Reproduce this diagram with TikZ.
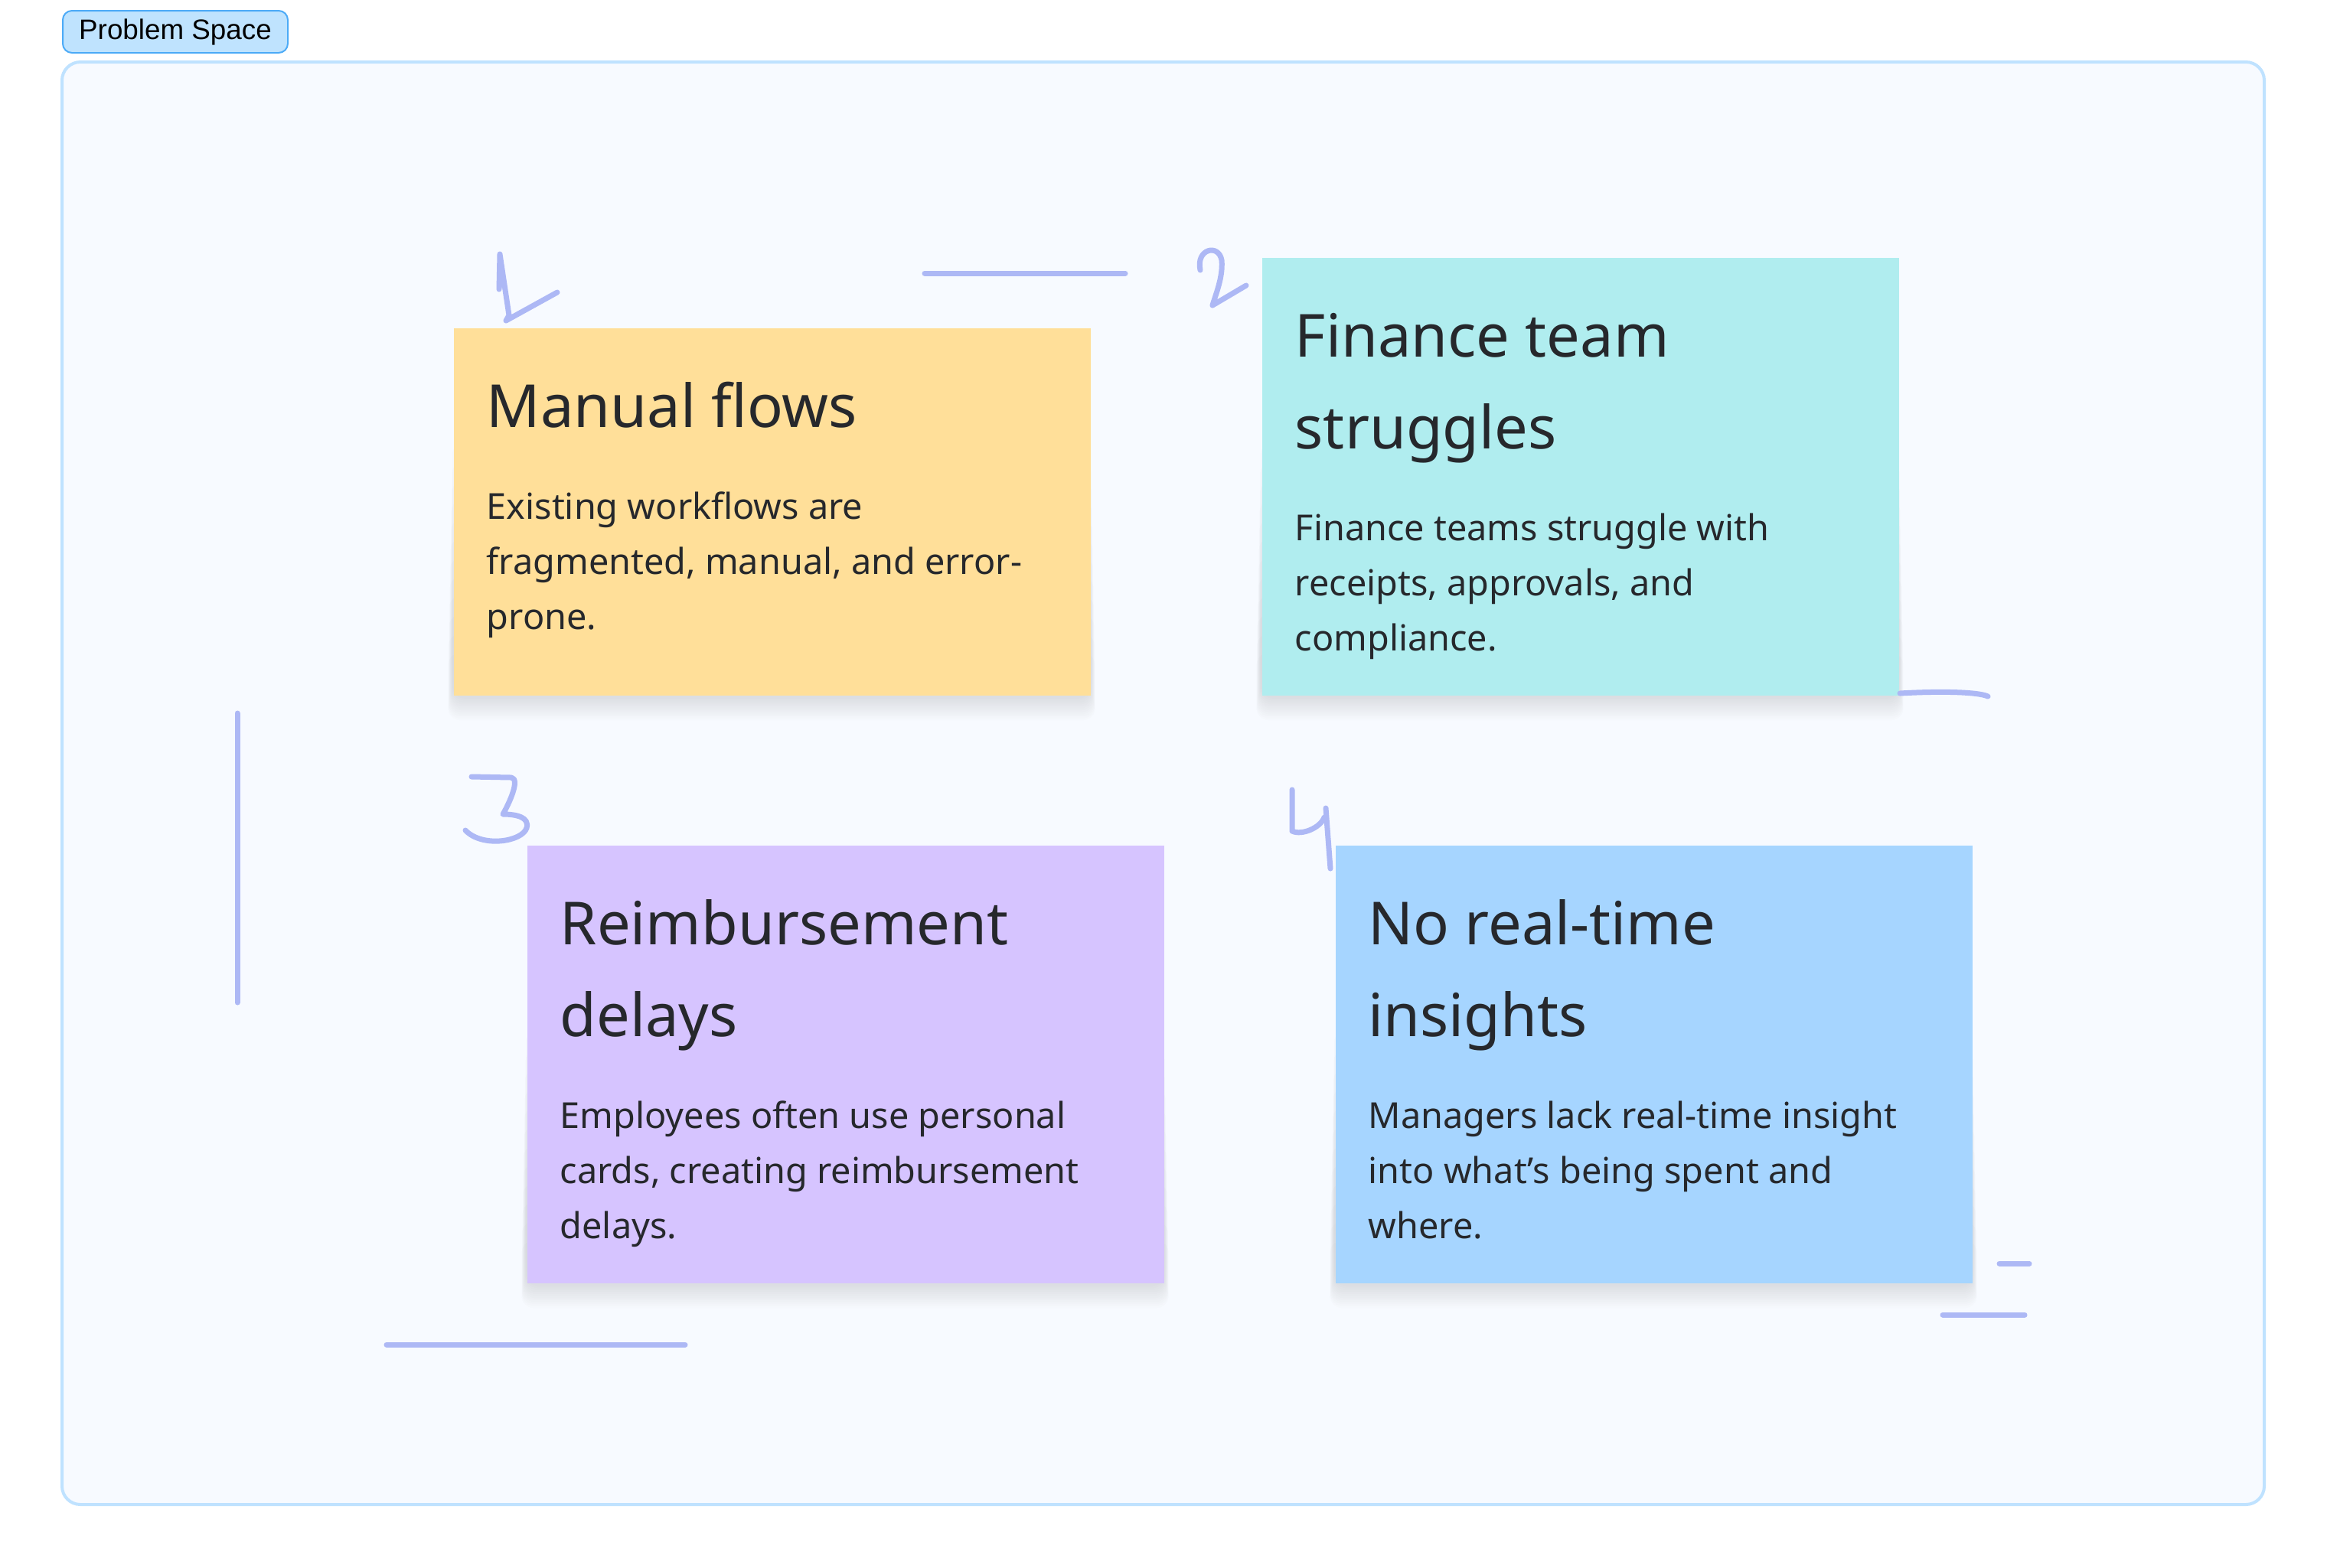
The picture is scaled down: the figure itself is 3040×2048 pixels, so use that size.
\documentclass[tikz,border=0pt]{standalone}
\usepackage{fontspec}
\setmainfont{Noto Sans}
\newfontfamily\tagfont{Liberation Sans}

\definecolor{boardfill}{HTML}{F7FAFF}
\definecolor{boardline}{HTML}{BFE2FF}
\definecolor{tagfill}{HTML}{BFE3FE}
\definecolor{tagline}{HTML}{4DABF7}
\definecolor{penblue}{HTML}{ADB8F5}
\definecolor{ink}{HTML}{26282C}
\definecolor{shade}{HTML}{4A5378}
\definecolor{cardyellow}{HTML}{FFDF99}
\definecolor{cardcyan}{HTML}{B0EDEF}
\definecolor{cardviolet}{HTML}{D6C4FF}
\definecolor{cardblue}{HTML}{A6D5FF}

\begin{document}
\begin{tikzpicture}[x=0.25pt, y=-0.25pt,
    card/.style={anchor=north west, minimum width=208pt, inner sep=0pt},
    headtxt/.style={anchor=base west, inner sep=0pt, align=left, text=ink,
      font=\fontsize{19.4}{30}\selectfont},
    bodytxt/.style={anchor=base west, inner sep=0pt, align=left, text=ink,
      font=\fontsize{11.7}{18}\selectfont},
    pen/.style={draw=penblue, line width=1.75pt, line cap=round, line join=round}]
        \fill[white] (0,0) rectangle (3040,2048);
        \useasboundingbox (0,0) rectangle (3040,2048);

        %% board and its tag
        \draw[boardline, fill=boardfill, line width=1pt, rounded corners=6pt]
          (81,81) rectangle (2958,1966);
        \node[draw=tagline, fill=tagfill, line width=0.5pt, rounded corners=3pt,
          minimum width=73.5pt, minimum height=13.75pt, inner sep=0pt,
          anchor=north west, font=\tagfont\fontsize{9.2}{11}\selectfont]
          (tag) at (81,13) {Problem Space};

        %% soft shadows under the notes
        \foreach \cx/\cy/\ch in {592/428/480, 1648/336/572, 688/1104/572, 1744/1104/572}
          \foreach \k in {1,...,12}
            \fill[shade, opacity=0.009, rounded corners=4pt]
              (\cx-7+0.5*\k, \cy+\ch-30-25*\k) rectangle (\cx+839-0.5*\k, \cy+\ch+36-2.6*\k);

        %% sticky notes (base of a text block = its last line)
        \node[card, fill=cardyellow, minimum height=120pt] (card1) at (592,428) {};
        \node[card, fill=cardcyan,   minimum height=143pt] (card2) at (1648,336) {};
        \node[card, fill=cardviolet, minimum height=143pt] (card3) at (688,1104) {};
        \node[card, fill=cardblue,   minimum height=143pt] (card4) at (1744,1104) {};

        \node[headtxt] (head1) at ([shift={(43,130)}]card1.north west) {Manual flows};
        \node[bodytxt] (body1) at ([shift={(0,264)}]head1.base west)
          {Existing workflows are\\fragmented, manual, and error-\\prone.};

        \node[headtxt] (head2) at ([shift={(43,250)}]card2.north west) {Finance team\\struggles};
        \node[bodytxt] (body2) at ([shift={(0,264)}]head2.base west)
          {Finance teams struggle with\\receipts, approvals, and\\compliance.};

        \node[headtxt] (head3) at ([shift={(43,250)}]card3.north west) {Reimbursement\\delays};
        \node[bodytxt] (body3) at ([shift={(0,264)}]head3.base west)
          {Employees often use personal\\cards, creating reimbursement\\delays.};

        \node[headtxt] (head4) at ([shift={(43,250)}]card4.north west) {No real-time\\insights};
        \node[bodytxt] (body4) at ([shift={(0,264)}]head4.base west)
          {Managers lack real-time insight\\into what’s being spent and\\where.};

        %% hand drawn numbers
        \draw[pen] (652,378) -- (653,332) -- (665,412) -- (661,419) -- (728,382);
        \draw[pen] (1568,353) .. controls (1562,325) and (1592,318) .. (1596,340)
          .. controls (1598,362) and (1588,385) .. (1584,399) -- (1628,373);
        \draw[pen] (616,1015) -- (668,1016) .. controls (680,1018) and (665,1050) .. (657,1064)
          .. controls (675,1064) and (692,1068) .. (688,1082)
          .. controls (682,1100) and (630,1108) .. (608,1085);
        \draw[pen] (1688,1032) -- (1688,1086) .. controls (1700,1092) and (1725,1082) .. (1730,1068);
        \draw[pen] (1732,1056) -- (1738,1135);

        %% loose strokes
        \draw[pen] (1208,357) -- (1470,357);
        \draw[pen] (2482,906) .. controls (2534,903) and (2584,904) .. (2597,910);
        \draw[pen] (310,932) -- (310,1310);
        \draw[pen] (505,1757) -- (895,1757);
        \draw[pen] (2612,1651) -- (2651,1651);
        \draw[pen] (2538,1718) -- (2645,1718);
\end{tikzpicture}
\end{document}
